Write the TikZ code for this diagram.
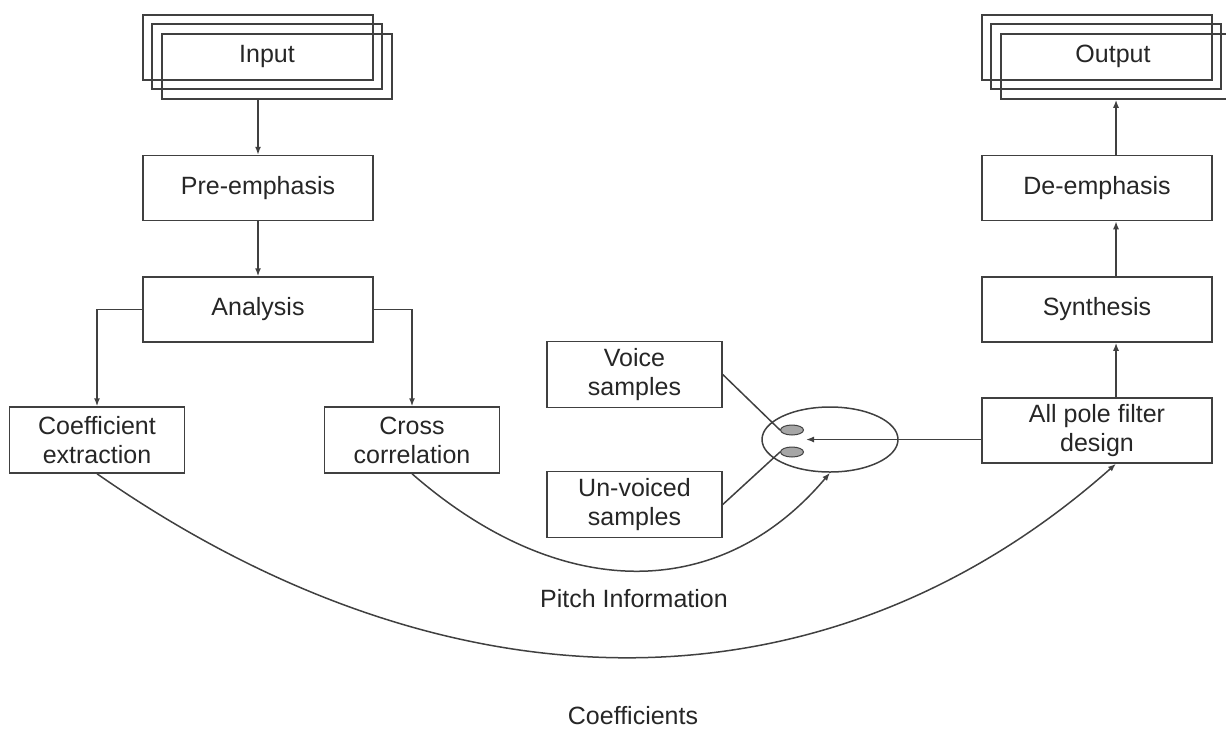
\documentclass[tikz,border=0pt]{standalone}
\usepackage{fontspec}
\setmainfont{Liberation Sans}
\usepackage{tikz}
\usetikzlibrary{shapes.geometric,arrows.meta}

\begin{document}
\begin{tikzpicture}[x=1pt,y=-1pt,
    every node/.style={font=\fontsize{25}{29}\selectfont, text=black!85},
    block/.style={draw=black!75, line width=1.5pt, minimum width=230pt, minimum height=65pt, inner sep=0pt, align=center},
    smallblock/.style={block, minimum width=175pt, minimum height=66pt},
    dot/.style={ellipse, draw=black!75, fill=black!35, line width=1pt, minimum width=23pt, minimum height=10pt, inner sep=0pt},
    wire/.style={draw=black!75, line width=1.5pt},
    >={Latex[length=8pt,width=6pt]}]
        \useasboundingbox (0,0) rectangle (1226,729);

        % stacked input / output
        \node[block] (inputback) at (258,47.5) {};
        \node[block] (inputmid) at (267,56.5) {Input};
        \node[block] (input) at (277,66.5) {};
        \node[block] (outputback) at (1097,47.5) {};
        \node[block] (outputmid) at (1106,56.5) {\hspace*{14pt}Output};
        \node[block] (output) at (1116,66.5) {};

        \node[block] (pre) at (258,188) {Pre-emphasis};
        \node[block] (analysis) at (258,309.5) {Analysis};
        \node[smallblock] (coeff) at (97,440) {Coefficient\\extraction};
        \node[smallblock] (cross) at (412,440) {Cross\\correlation};

        \node[smallblock] (voice) at (634.5,374.5) {Voice\\samples};
        \node[smallblock] (unvoice) at (634.5,504.5) {Un-voiced\\samples};

        \node[block] (deemph) at (1097,188) {De-emphasis};
        \node[block] (synth) at (1097,309.5) {Synthesis};
        \node[block] (allpole) at (1097,430.5) {All pole filter\\design};

        % switch
        \node[ellipse, draw=black!75, line width=1.5pt, minimum width=136pt, minimum height=65pt] (switch) at (830,439.5) {};
        \node[dot] (voicedot) at (792,430) {};
        \node[dot] (unvoicedot) at (792,452) {};
        \coordinate (hub) at (806,439.5);

        \node (pitch) at (634,599) {Pitch Information};
        \node (coefs) at (633,716) {Coefficients};

        \draw[wire,->] (input.south -| pre.north) -- (pre.north);
        \draw[wire,->] (pre.south) -- (analysis.north);
        \draw[wire,->] (analysis.west) -| (coeff.north);
        \draw[wire,->] (analysis.east) -| (cross.north);

        \draw[wire] (voice.east) -- (voicedot.west);
        \draw[wire] (unvoice.east) -- (unvoicedot.west);
        \draw[wire,->] (switch.center -| allpole.west) -- (hub);

        \draw[wire,->] (allpole.north -| output.south) -- (synth.south -| output.south);
        \draw[wire,->] (synth.north -| output.south) -- (deemph.south -| output.south);
        \draw[wire,->] (deemph.north -| output.south) -- (output.south);

        \draw[wire,->] (cross.south) .. controls (560,603) and (720,603) .. (switch.south);
        \draw[wire,->] (coeff.south) .. controls (450,720) and (827,720) .. (allpole.south -| output.south);
    \end{tikzpicture}
\end{document}
